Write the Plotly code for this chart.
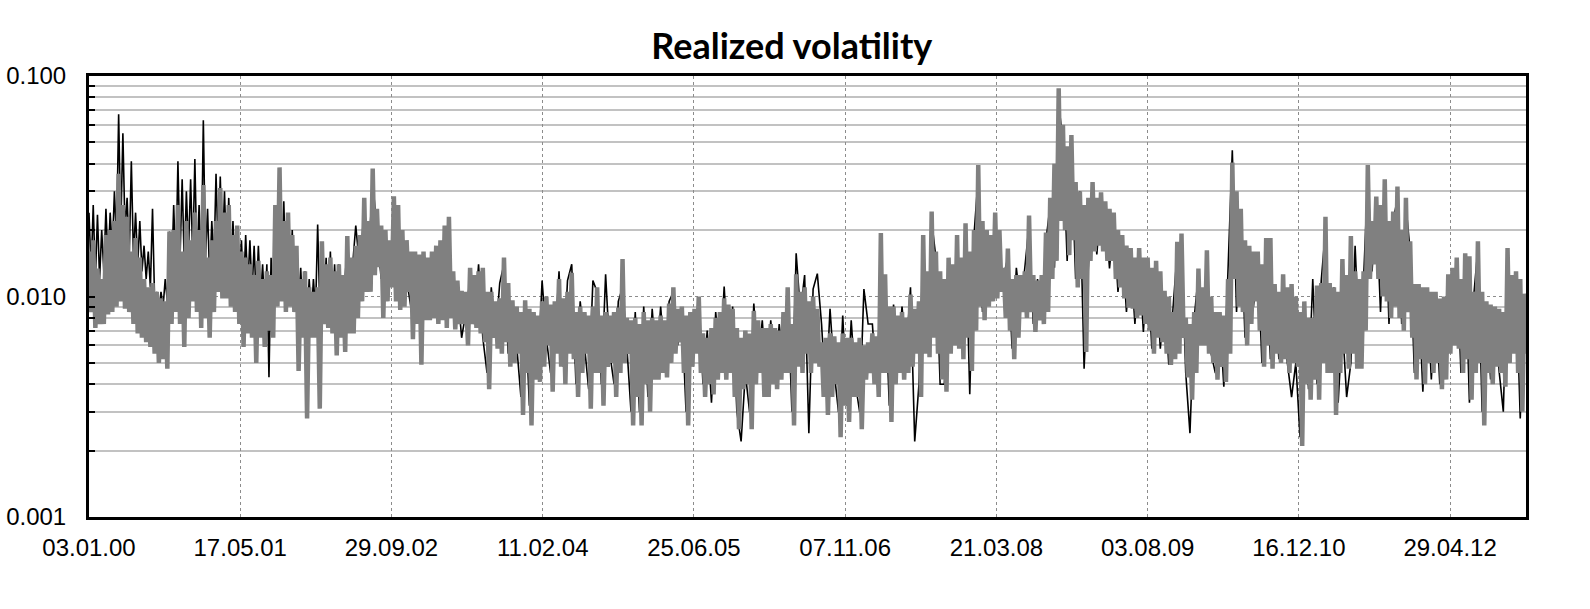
import pandas as pd
import plotly.graph_objects as go

# realized volatility, from 03.01.2000
# gray series: one reading every 7 days
gray_dates = pd.date_range("2000-01-03", periods=680, freq="7D")
# black series: every 7 days for the first 840 days, then every 14 days
black_dates = pd.date_range("2000-01-03", periods=120, freq="7D").append(
    pd.date_range("2002-04-22", periods=280, freq="14D"))

gray_rv = [
    0.016, 0.0085, 0.018, 0.0072, 0.0134, 0.0075, 0.012, 0.0075, 0.019, 0.0083, 0.02, 0.0085, 0.022, 0.009, 0.036, 0.0095, 0.026, 0.0088, 0.023, 0.0085,
    0.016, 0.0075, 0.0184, 0.0068, 0.015, 0.0065, 0.012, 0.0062, 0.011, 0.0059, 0.0115, 0.0055, 0.0105, 0.005, 0.0098, 0.0052, 0.0095, 0.0047, 0.0197, 0.0075,
    0.02, 0.0085, 0.026, 0.0075, 0.016, 0.0059, 0.022, 0.008, 0.018, 0.0095, 0.024, 0.0085, 0.02, 0.0072, 0.032, 0.008, 0.015, 0.0065, 0.018, 0.0085,
    0.022, 0.0105, 0.031, 0.0098, 0.024, 0.0098, 0.026, 0.009, 0.019, 0.0085, 0.021, 0.0075, 0.016, 0.0059, 0.015, 0.0068, 0.014, 0.0065, 0.0125, 0.005,
    0.0145, 0.0065, 0.012, 0.0059, 0.013, 0.007, 0.0125, 0.0065, 0.026, 0.009, 0.0385, 0.0095, 0.022, 0.0085, 0.024, 0.009, 0.019, 0.0085, 0.017, 0.0046,
    0.012, 0.0065, 0.013, 0.0028, 0.011, 0.0065, 0.0105, 0.0065, 0.011, 0.0031, 0.0178, 0.0075, 0.014, 0.0072, 0.015, 0.0068, 0.013, 0.0054, 0.014, 0.0065,
    0.0125, 0.0056, 0.0188, 0.0068, 0.015, 0.0068, 0.017, 0.008, 0.019, 0.0095, 0.028, 0.0105, 0.022, 0.0105, 0.038, 0.0125, 0.025, 0.0136, 0.021, 0.008,
    0.02, 0.0095, 0.018, 0.011, 0.0285, 0.0095, 0.026, 0.0087, 0.02, 0.009, 0.018, 0.0105, 0.016, 0.0064, 0.016, 0.0075, 0.0155, 0.0049, 0.016, 0.0078,
    0.015, 0.0078, 0.016, 0.008, 0.017, 0.0075, 0.018, 0.0078, 0.021, 0.0072, 0.023, 0.008, 0.013, 0.0071, 0.0118, 0.0075, 0.0106, 0.0075, 0.0105, 0.006,
    0.0135, 0.0075, 0.0125, 0.0072, 0.013, 0.0068, 0.0135, 0.0062, 0.0105, 0.0038, 0.0105, 0.0065, 0.0095, 0.0058, 0.0098, 0.0055, 0.015, 0.0062, 0.0115, 0.0048,
    0.0096, 0.005, 0.009, 0.0055, 0.0085, 0.0029, 0.0096, 0.0045, 0.0088, 0.0026, 0.0085, 0.0042, 0.0082, 0.0041, 0.0095, 0.0048, 0.01, 0.006, 0.0092, 0.0037,
    0.0095, 0.0055, 0.012, 0.0048, 0.0098, 0.004, 0.0105, 0.0055, 0.0128, 0.0052, 0.0085, 0.0035, 0.009, 0.0045, 0.0085, 0.0055, 0.0082, 0.0031, 0.009, 0.0045,
    0.011, 0.0045, 0.0082, 0.0032, 0.0085, 0.0048, 0.0082, 0.005, 0.0085, 0.0035, 0.0089, 0.0045, 0.0148, 0.005, 0.008, 0.0055, 0.0078, 0.0026, 0.008, 0.0035,
    0.0075, 0.0026, 0.0085, 0.004, 0.0078, 0.003, 0.008, 0.0042, 0.0078, 0.0042, 0.0082, 0.0045, 0.0078, 0.0043, 0.0093, 0.005, 0.011, 0.0055, 0.0088, 0.0062,
    0.009, 0.0045, 0.0082, 0.0026, 0.0085, 0.0048, 0.0088, 0.0055, 0.01, 0.0045, 0.0068, 0.0035, 0.0065, 0.004, 0.0072, 0.0036, 0.008, 0.0042, 0.0085, 0.0045,
    0.0098, 0.0042, 0.0092, 0.0045, 0.0088, 0.0035, 0.0072, 0.0025, 0.0065, 0.0038, 0.007, 0.004, 0.0068, 0.0025, 0.0086, 0.004, 0.0078, 0.0045, 0.0072, 0.0035,
    0.0072, 0.0035, 0.0075, 0.004, 0.0072, 0.0038, 0.007, 0.0042, 0.0085, 0.0045, 0.011, 0.0045, 0.0075, 0.0026, 0.0126, 0.0048, 0.0105, 0.0045, 0.011, 0.0055,
    0.0095, 0.0045, 0.01, 0.005, 0.0088, 0.0048, 0.0062, 0.0035, 0.0065, 0.0029, 0.0068, 0.0035, 0.0066, 0.004, 0.0062, 0.0023, 0.0068, 0.0032, 0.0065, 0.0027,
    0.0065, 0.0035, 0.0062, 0.0035, 0.0065, 0.0025, 0.006, 0.0042, 0.0062, 0.0045, 0.0068, 0.004, 0.0066, 0.0035, 0.0194, 0.0045, 0.0126, 0.0045, 0.009, 0.0027,
    0.009, 0.004, 0.0082, 0.0045, 0.0085, 0.0042, 0.008, 0.0045, 0.0102, 0.0048, 0.0088, 0.0055, 0.0095, 0.0035, 0.019, 0.0055, 0.013, 0.0053, 0.0243, 0.0065,
    0.016, 0.0055, 0.013, 0.0042, 0.012, 0.0037, 0.015, 0.0055, 0.014, 0.006, 0.019, 0.0058, 0.015, 0.0052, 0.0215, 0.0065, 0.016, 0.0046, 0.02, 0.007,
    0.0395, 0.009, 0.022, 0.0078, 0.02, 0.009, 0.019, 0.0095, 0.024, 0.0098, 0.02, 0.0105, 0.0135, 0.008, 0.0165, 0.007, 0.012, 0.0052, 0.0125, 0.0065,
    0.0125, 0.0085, 0.013, 0.008, 0.0233, 0.0085, 0.0125, 0.0069, 0.0118, 0.0078, 0.0125, 0.0075, 0.0195, 0.0085, 0.028, 0.012, 0.04, 0.0145, 0.088, 0.022,
    0.06, 0.02, 0.048, 0.0154, 0.054, 0.018, 0.033, 0.011, 0.03, 0.012, 0.026, 0.0056, 0.028, 0.0145, 0.033, 0.016, 0.028, 0.017, 0.0297, 0.016,
    0.027, 0.0145, 0.025, 0.0145, 0.024, 0.012, 0.02, 0.011, 0.019, 0.0098, 0.017, 0.0089, 0.0166, 0.0088, 0.015, 0.008, 0.0166, 0.0082, 0.015, 0.0075,
    0.015, 0.007, 0.0135, 0.0055, 0.0145, 0.0065, 0.013, 0.0062, 0.0106, 0.0055, 0.01, 0.0049, 0.0085, 0.0052, 0.0177, 0.0055, 0.0193, 0.0065, 0.008, 0.0043,
    0.0075, 0.0034, 0.0085, 0.0045, 0.0134, 0.006, 0.011, 0.006, 0.0162, 0.0055, 0.01, 0.005, 0.0085, 0.0042, 0.0085, 0.0048, 0.0082, 0.0041, 0.012, 0.0055,
    0.0405, 0.012, 0.03, 0.009, 0.025, 0.0085, 0.018, 0.006, 0.017, 0.0075, 0.016, 0.0095, 0.016, 0.007, 0.014, 0.0048, 0.0184, 0.006, 0.0184, 0.0047,
    0.0114, 0.0055, 0.0105, 0.005, 0.0126, 0.0052, 0.011, 0.0045, 0.0114, 0.005, 0.01, 0.0048, 0.0085, 0.0021, 0.0095, 0.004, 0.008, 0.0034, 0.008, 0.0042,
    0.0112, 0.0034, 0.0115, 0.005, 0.023, 0.0045, 0.0115, 0.0045, 0.011, 0.0029, 0.0105, 0.0045, 0.0148, 0.0055, 0.0125, 0.0047, 0.0188, 0.0055, 0.013, 0.0047,
    0.012, 0.0047, 0.013, 0.007, 0.0395, 0.012, 0.022, 0.014, 0.0284, 0.012, 0.026, 0.01, 0.034, 0.0095, 0.022, 0.008, 0.0243, 0.009, 0.0315, 0.008,
    0.02, 0.007, 0.028, 0.0085, 0.0178, 0.0065, 0.0114, 0.0042, 0.0114, 0.0052, 0.011, 0.004, 0.011, 0.005, 0.0105, 0.0045, 0.0105, 0.005, 0.0098, 0.0038,
    0.01, 0.0042, 0.0126, 0.0055, 0.0135, 0.006, 0.015, 0.0058, 0.012, 0.0045, 0.0157, 0.0052, 0.0152, 0.0034, 0.0105, 0.0045, 0.0178, 0.005, 0.0105, 0.0026,
    0.0095, 0.0045, 0.0092, 0.004, 0.009, 0.0048, 0.0088, 0.0045, 0.0085, 0.0039, 0.0166, 0.005, 0.0125, 0.0055, 0.013, 0.0045, 0.012, 0.003, 0.0103, 0.0055,
]

black_rv = [
    # weekly, 2000 - early 2002
    0.024, 0.013, 0.026, 0.012, 0.0235, 0.012, 0.02, 0.013, 0.025, 0.014, 0.024, 0.016, 0.03, 0.018, 0.067, 0.02, 0.055, 0.02, 0.028, 0.015,
    0.041, 0.015, 0.024, 0.014, 0.022, 0.013, 0.017, 0.012, 0.016, 0.011, 0.025, 0.0095, 0.0105, 0.0085, 0.0105, 0.009, 0.012, 0.0095, 0.0197, 0.012,
    0.026, 0.013, 0.041, 0.015, 0.034, 0.014, 0.03, 0.016, 0.034, 0.015, 0.042, 0.014, 0.026, 0.013, 0.063, 0.015, 0.025, 0.012, 0.022, 0.014,
    0.036, 0.016, 0.035, 0.015, 0.03, 0.014, 0.028, 0.013, 0.022, 0.012, 0.02, 0.011, 0.018, 0.0105, 0.019, 0.011, 0.018, 0.0105, 0.017, 0.0095,
    0.017, 0.0095, 0.014, 0.0085, 0.014, 0.0043, 0.015, 0.0095, 0.026, 0.012, 0.024, 0.013, 0.027, 0.012, 0.022, 0.011, 0.02, 0.01, 0.015, 0.009,
    0.0135, 0.008, 0.013, 0.0075, 0.012, 0.008, 0.012, 0.0085, 0.0212, 0.009, 0.016, 0.0085, 0.015, 0.0085, 0.016, 0.008, 0.014, 0.0075, 0.014, 0.008,
    # every two weeks from 22.04.2002
    0.009, 0.017, 0.012, 0.021, 0.013, 0.026, 0.015, 0.033, 0.02, 0.012,
    0.018, 0.012, 0.025, 0.011, 0.019, 0.012, 0.009, 0.015, 0.008, 0.014,
    0.009, 0.015, 0.0085, 0.016, 0.009, 0.02, 0.009, 0.011, 0.0065, 0.0085,
    0.012, 0.0075, 0.014, 0.0065, 0.0045, 0.011, 0.0065, 0.0115, 0.014, 0.0055,
    0.0092, 0.006, 0.0035, 0.009, 0.0032, 0.008, 0.0045, 0.0118, 0.0065, 0.0045,
    0.006, 0.013, 0.0048, 0.0118, 0.014, 0.004, 0.0095, 0.006, 0.0038, 0.0118,
    0.0105, 0.004, 0.0126, 0.0055, 0.004, 0.0095, 0.011, 0.006, 0.003, 0.0085,
    0.003, 0.009, 0.0035, 0.0088, 0.0048, 0.009, 0.005, 0.0095, 0.0105, 0.006,
    0.0085, 0.003, 0.008, 0.006, 0.0095, 0.004, 0.007, 0.0033, 0.0085, 0.005,
    0.0111, 0.005, 0.009, 0.003, 0.0022, 0.0045, 0.003, 0.0093, 0.005, 0.0078,
    0.004, 0.0078, 0.0042, 0.0075, 0.005, 0.0105, 0.003, 0.0157, 0.0085, 0.0125,
    0.0024, 0.0108, 0.0127, 0.0075, 0.0035, 0.0088, 0.0045, 0.003, 0.0082, 0.0032,
    0.0078, 0.004, 0.003, 0.0108, 0.0075, 0.0075, 0.004, 0.012, 0.01, 0.0032,
    0.0092, 0.005, 0.009, 0.0055, 0.011, 0.0022, 0.004, 0.017, 0.006, 0.022,
    0.015, 0.004, 0.004, 0.014, 0.0065, 0.018, 0.006, 0.02, 0.0036, 0.019,
    0.035, 0.0085, 0.019, 0.01, 0.022, 0.011, 0.0125, 0.015, 0.0058, 0.0135,
    0.009, 0.0135, 0.021, 0.0075, 0.012, 0.008, 0.018, 0.026, 0.0135, 0.075,
    0.05, 0.0145, 0.045, 0.012, 0.03, 0.0047, 0.0135, 0.03, 0.0155, 0.027,
    0.025, 0.0134, 0.022, 0.0105, 0.018, 0.0085, 0.015, 0.0075, 0.015, 0.0069,
    0.014, 0.0058, 0.013, 0.0058, 0.01, 0.0049, 0.009, 0.016, 0.018, 0.0045,
    0.0024, 0.008, 0.0125, 0.0065, 0.015, 0.0055, 0.0045, 0.0082, 0.0039, 0.013,
    0.046, 0.0085, 0.023, 0.0065, 0.016, 0.009, 0.015, 0.005, 0.017, 0.0052,
    0.0105, 0.0052, 0.0115, 0.005, 0.0035, 0.005, 0.0023, 0.009, 0.0038, 0.012,
    0.004, 0.0118, 0.02, 0.005, 0.011, 0.0033, 0.0075, 0.0035, 0.005, 0.017,
    0.006, 0.012, 0.035, 0.013, 0.026, 0.0085, 0.03, 0.0075, 0.022, 0.028,
    0.0075, 0.026, 0.016, 0.0045, 0.0105, 0.0037, 0.0105, 0.0042, 0.01, 0.004,
    0.0045, 0.012, 0.0065, 0.014, 0.0045, 0.015, 0.0033, 0.01, 0.0165, 0.003,
    0.009, 0.0042, 0.0085, 0.0046, 0.003, 0.0155, 0.006, 0.012, 0.0028, 0.0098,
]

tick_dates = pd.date_range("2000-01-03", periods=10, freq="500D")
tick_labels = [d.strftime("%d.%m.%y") for d in tick_dates]
x_range = ["2000-01-03", "2013-01-05"]

minor_vals = [k * 0.001 for k in range(2, 10)] + [k * 0.01 for k in range(2, 10)]

fig = go.Figure()
fig.add_trace(go.Scatter(x=black_dates, y=black_rv, mode="lines",
                         line=dict(color="black", width=1.6), showlegend=False))
fig.add_trace(go.Scatter(x=gray_dates, y=gray_rv, mode="lines",
                         line=dict(color="#808080", width=4.5), showlegend=False))

fig.update_layout(
    width=1590, height=609,
    margin=dict(l=89, r=64, t=76, b=92),
    paper_bgcolor="white", plot_bgcolor="white",
    title=dict(text="<b>Realized volatility</b>", x=0.498, xanchor="center",
               y=0.923, yanchor="middle",
               font=dict(family="Lato", size=36, color="black")),
    font=dict(family="Liberation Sans, Arial", size=24, color="black"),
    xaxis=dict(type="date", range=x_range, tickvals=tick_dates, ticktext=tick_labels,
               ticks="", showgrid=True, gridcolor="#8c8c8c", griddash="dot", gridwidth=1,
               showline=True, linecolor="black", linewidth=3, mirror=True,
               ticklabelstandoff=7, zeroline=False, automargin=False),
    xaxis2=dict(type="date", range=x_range, overlaying="x", side="top", anchor="y",
                tickmode="linear", tick0="2000-01-03", dtick=100 * 86400000,
                ticks="inside", ticklen=6, tickwidth=1.5, tickcolor="black",
                showticklabels=False, showgrid=False, showline=False, automargin=False),
    yaxis=dict(type="log", range=[-3, -1], tickvals=[0.001, 0.01, 0.1],
               ticktext=["0.001", "0.010", "0.100"],
               ticks="inside", ticklen=6, tickwidth=1.5, tickcolor="black",
               showgrid=True, gridcolor="#8c8c8c", griddash="dot", gridwidth=1,
               minor=dict(tickmode="array", tickvals=minor_vals, ticks="inside",
                          ticklen=6, tickwidth=1.5, tickcolor="black",
                          showgrid=True, gridcolor="#c2c2c2", griddash="solid",
                          gridwidth=1.5),
               showline=True, linecolor="black", linewidth=3, mirror=True,
               ticklabelstandoff=15, zeroline=False, automargin=False),
)

# drop the default 8px page margin so the figure fills the window exactly
fig.write_html("out.html", config={"displayModeBar": False},
               post_script="document.body.style.margin = '0px';")
